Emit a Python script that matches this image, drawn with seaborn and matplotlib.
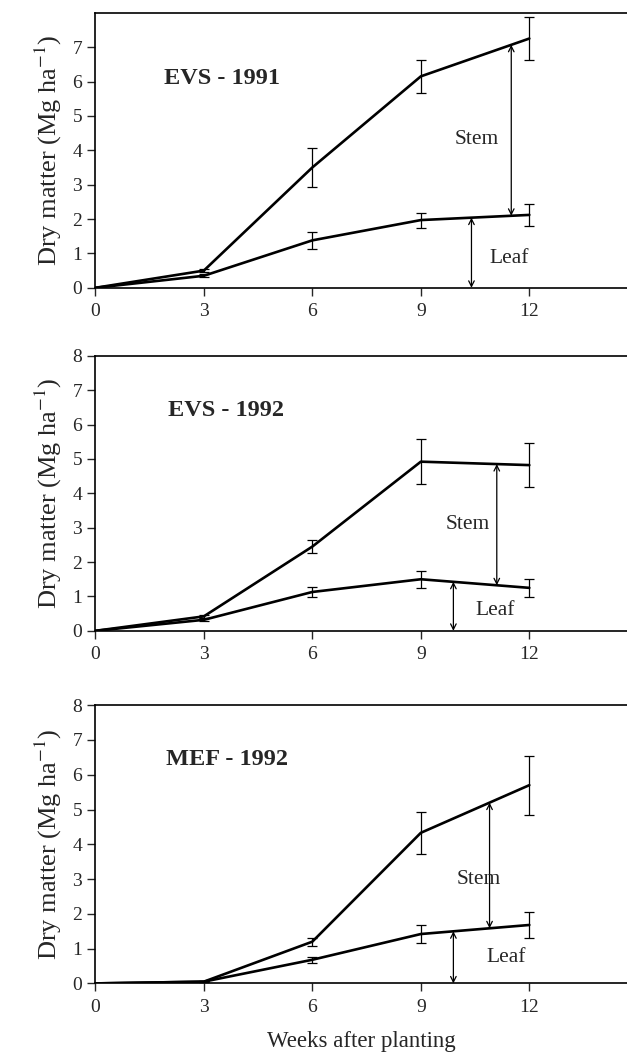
import numpy as np
import pandas as pd
import matplotlib
matplotlib.use("Agg")
import matplotlib.pyplot as plt
import seaborn as sns

# weeks after planting
weeks = [0, 3, 6, 9, 12]

# EVS - 1991
evs91_total = [0, 0.50, 3.50, 6.15, 7.25]
evs91_total_err = [0, 0.05, 0.57, 0.48, 0.62]
evs91_leaf = [0, 0.35, 1.38, 1.97, 2.12]
evs91_leaf_err = [0, 0.04, 0.25, 0.22, 0.32]

# EVS - 1992
evs92_total = [0, 0.42, 2.45, 4.92, 4.82]
evs92_total_err = [0, 0.05, 0.20, 0.65, 0.64]
evs92_leaf = [0, 0.32, 1.13, 1.50, 1.25]
evs92_leaf_err = [0, 0.04, 0.15, 0.24, 0.26]

# MEF - 1992
mef92_total = [0, 0.05, 1.20, 4.33, 5.70]
mef92_total_err = [0, 0.02, 0.11, 0.60, 0.85]
mef92_leaf = [0, 0.05, 0.68, 1.42, 1.68]
mef92_leaf_err = [0, 0.02, 0.09, 0.25, 0.36]

titles = ["EVS - 1991", "EVS - 1992", "MEF - 1992"]
yticks_list = [range(0, 8), range(0, 9), range(0, 9)]

sns.set_style("ticks")
plt.rcParams['font.family'] = ['Liberation Serif', 'DejaVu Serif']
plt.rcParams['mathtext.fontset'] = 'stix'

fig = plt.figure(figsize=(6.27, 10.62), dpi=100)
boxes = [[0.152, 0.729, 0.848, 0.259],
         [0.152, 0.406, 0.848, 0.259],
         [0.152, 0.074, 0.848, 0.262]]

panels = [
    (evs91_total, evs91_total_err, evs91_leaf, evs91_leaf_err),
    (evs92_total, evs92_total_err, evs92_leaf, evs92_leaf_err),
    (mef92_total, mef92_total_err, mef92_leaf, mef92_leaf_err),
]
# arrow x positions (stem, leaf), title pos, text positions
stem_x = [11.5, 11.1, 10.9]
leaf_x = [10.4, 9.9, 9.9]
title_pos = [(1.9, 6.1), (2.0, 6.4), (1.95, 6.45)]
stem_txt = [(10.55, 4.3), (10.3, 3.1), (10.6, 3.0)]
leaf_txt = [(11.45, 0.85), (11.05, 0.6), (11.35, 0.75)]

for i, (tot, tot_err, leaf, leaf_err) in enumerate(panels):
    ax = fig.add_axes(boxes[i])
    df = pd.DataFrame({"week": weeks * 2,
                       "dm": tot + leaf,
                       "part": ["total"] * 5 + ["leaf"] * 5})
    sns.lineplot(data=df, x="week", y="dm", units="part", estimator=None,
                 color="black", lw=1.9, ax=ax, legend=False)
    ax.errorbar(weeks[1:], tot[1:], yerr=tot_err[1:], fmt="none", ecolor="black",
                elinewidth=0.9, capsize=3.5, capthick=0.9)
    ax.errorbar(weeks[1:], leaf[1:], yerr=leaf_err[1:], fmt="none", ecolor="black",
                elinewidth=0.9, capsize=3.5, capthick=0.9)

    # arrows between curves
    sx = stem_x[i]
    ax.annotate("", xy=(sx, np.interp(sx, weeks, tot)), xytext=(sx, np.interp(sx, weeks, leaf)),
                arrowprops=dict(arrowstyle="<->", lw=0.9, color="black", shrinkA=0, shrinkB=0))
    lx = leaf_x[i]
    ax.annotate("", xy=(lx, np.interp(lx, weeks, leaf)), xytext=(lx, 0),
                arrowprops=dict(arrowstyle="<->", lw=0.9, color="black", shrinkA=0, shrinkB=0))
    ax.text(*stem_txt[i], "Stem", fontsize=15.5, ha="center", va="center")
    ax.text(*leaf_txt[i], "Leaf", fontsize=15.5, ha="center", va="center")
    ax.text(*title_pos[i], titles[i], fontsize=17.5, fontweight="bold", ha="left", va="center")

    ax.set_xlim(0, 14.7)
    ax.set_ylim(0, 8)
    ax.set_xticks([0, 3, 6, 9, 12])
    ax.set_yticks(list(yticks_list[i]))
    ax.tick_params(direction="out", length=6, width=1.0, labelsize=14)
    ax.tick_params(axis="x", pad=5)
    ax.spines["right"].set_visible(False)
    for s in ["left", "bottom", "top"]:
        ax.spines[s].set_linewidth(1.2)
        ax.spines[s].set_color("black")
    ax.set_ylabel("Dry matter (Mg ha$^{-1}$)", fontsize=19, labelpad=6)
    ax.set_xlabel("Weeks after planting" if i == 2 else "", fontsize=16.5, labelpad=11)

fig.savefig("out.png", dpi=100)
